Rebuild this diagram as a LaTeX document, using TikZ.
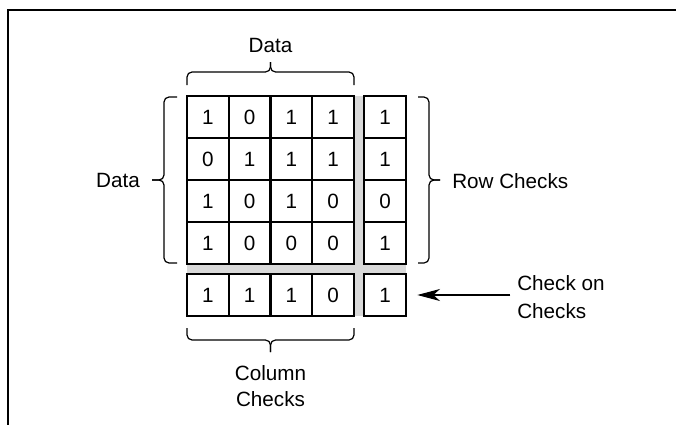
\documentclass[tikz,border=0pt]{standalone}
\usepackage{fontspec}
\setmainfont{Liberation Sans}
\usetikzlibrary{arrows.meta}
\definecolor{stripgray}{HTML}{D9D9D9}
\tikzset{
  cell/.style={draw=black, line width=1.5pt, minimum width=31.31pt, minimum height=31.5pt,
    inner sep=0pt, outer sep=0pt, font=\fontsize{15.5}{18}\selectfont},
  rcell/.style={cell, minimum width=31.5pt},
  lbl/.style={inner sep=0pt, font=\fontsize{15.5}{18}\selectfont},
  bracestyle/.style={draw=black, line width=0.9pt, rounded corners=3.75pt},
  frame/.style={draw=black, line width=1.6pt},
  pointer/.style={draw=black, line width=0.9pt, -{Stealth[length=17pt, width=9pt, inset=5pt]}}
}
\begin{document}
\begin{tikzpicture}[x=0.75pt, y=-0.75pt]
\useasboundingbox (0,0) rectangle (676,425);
% frame
\draw[frame] (676,10) -- (8,10) -- (8,425);
% gray strips
\fill[stripgray] (354,96) rectangle (364,316);
\fill[stripgray] (187,264) rectangle (406,274);
% data cells
\def\xa{207.875}\def\xb{249.625}\def\xc{291.375}\def\xd{333.125}
\node[cell] (d11) at (\xa,117) {1};
\node[cell] (d12) at (\xb,117) {0};
\node[cell] (d13) at (\xc,117) {1};
\node[cell] (d14) at (\xd,117) {1};
\node[cell] (d21) at (\xa,159) {0};
\node[cell] (d22) at (\xb,159) {1};
\node[cell] (d23) at (\xc,159) {1};
\node[cell] (d24) at (\xd,159) {1};
\node[cell] (d31) at (\xa,201) {1};
\node[cell] (d32) at (\xb,201) {0};
\node[cell] (d33) at (\xc,201) {1};
\node[cell] (d34) at (\xd,201) {0};
\node[cell] (d41) at (\xa,243) {1};
\node[cell] (d42) at (\xb,243) {0};
\node[cell] (d43) at (\xc,243) {0};
\node[cell] (d44) at (\xd,243) {0};
% row checks
\node[rcell] (r1) at (385,117) {1};
\node[rcell] (r2) at (385,159) {1};
\node[rcell] (r3) at (385,201) {0};
\node[rcell] (r4) at (385,243) {1};
% column checks
\node[cell] (k1) at (\xa,295) {1};
\node[cell] (k2) at (\xb,295) {1};
\node[cell] (k3) at (\xc,295) {1};
\node[cell] (k4) at (\xd,295) {0};
% check on checks
\node[rcell] (cc) at (385,295) {1};
% braces
\draw[bracestyle] (187,85) |- (270.5,72) -- (270.5,62);
\draw[bracestyle] (354,85) |- (270.5,72) -- (270.5,62);
\draw[bracestyle] (177,97) -| (164,180) -- (152,180);
\draw[bracestyle] (177,263) -| (164,180) -- (152,180);
\draw[bracestyle] (418,97) -| (429,180) -- (440,180);
\draw[bracestyle] (418,263) -| (429,180) -- (440,180);
\draw[bracestyle] (187,328) |- (270.5,340) -- (270.5,352);
\draw[bracestyle] (354,328) |- (270.5,340) -- (270.5,352);
% labels
\node[lbl] (ldatatop) at (270.5,45) {Data};
\node[lbl] (ldataleft) at (118,180) {Data};
\node[lbl, anchor=west] (lrow) at (452,181) {Row Checks};
\node[lbl, align=center, font=\fontsize{15.5}{19.5}\selectfont] (lcol) at (270.5,386) {Column\\Checks};
\node[lbl, align=left, anchor=west, font=\fontsize{15.5}{21}\selectfont] (lcc) at (517,297) {Check on\\Checks};
% arrow
\coordinate (tip) at ([xshift=8.5pt]cc.east);
\draw[pointer] ([xshift=-5pt]lcc.west |- cc.east) -- (tip);
\end{tikzpicture}
\end{document}
